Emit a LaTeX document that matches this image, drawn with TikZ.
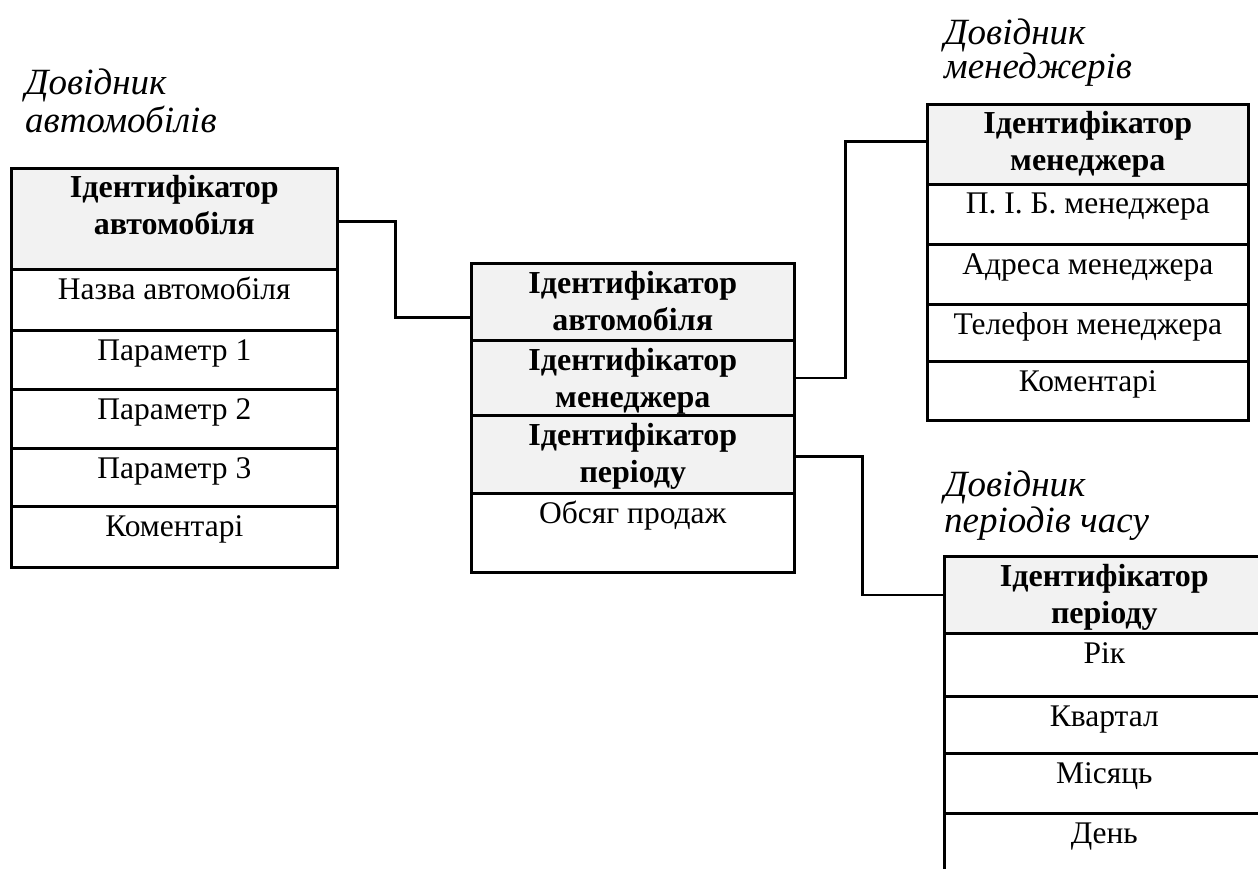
\documentclass[tikz,border=0pt]{standalone}
\usepackage{fontspec}
\setmainfont{Liberation Serif}
\definecolor{keyfill}{HTML}{F2F2F2}
\newcommand\twoline[2]{\vtop{\baselineskip=37pt\halign{\hfil##\hfil\cr#1\cr#2\cr}}}
\tikzset{
  cellbox/.style={draw=black, line width=2.6pt, fill=white, anchor=north west, inner sep=0pt},
  keybox/.style={cellbox, fill=keyfill},
  celltext/.style={anchor=base, inner sep=0pt, font=\fontsize{31.5}{36}\selectfont},
  keytext/.style={celltext, font=\fontsize{32}{37}\selectfont\bfseries},
  titletext/.style={anchor=base west, inner sep=0pt, align=left, font=\fontsize{37}{37}\selectfont\itshape},
  link/.style={draw=black, line width=2.6pt}
}
% one table cell: name, left x, top y, width, height, kind (key/cell), text
\newcommand\cell[7]{%
  \node[#6box, minimum width=#4pt, minimum height=#5pt] (#1) at (#2,#3) {};
  \node[#6text] (#1t) at ([yshift=-31pt]#1.north) {#7};
}
\begin{document}
\begin{tikzpicture}[x=1pt, y=-1pt]
\clip (0,0) rectangle (1258,869);
\fill[white] (0,0) rectangle (1258,869);

% cars
\node[titletext] (tcars) at (25,95) {Довідник};
\node[titletext] (tcars2) at (25,133) {автомобілів};
\cell{L0}{10}{167}{326}{101}{key}{\twoline{Ідентифікатор}{автомобіля}}
\cell{L1}{10}{268}{326}{61}{cell}{Назва автомобіля}
\cell{L2}{10}{329}{326}{59}{cell}{Параметр 1}
\cell{L3}{10}{388}{326}{59}{cell}{Параметр 2}
\cell{L4}{10}{447}{326}{58}{cell}{Параметр 3}
\cell{L5}{10}{505}{326}{61}{cell}{Коментарі}

% sales
\cell{M1}{470}{262}{323}{77}{key}{\twoline{Ідентифікатор}{автомобіля}}
\cell{M2}{470}{339}{323}{75}{key}{\twoline{Ідентифікатор}{менеджера}}
\cell{M3}{470}{414}{323}{78}{key}{\twoline{Ідентифікатор}{періоду}}
\cell{M4}{470}{492}{323}{79}{cell}{Обсяг продаж}

% managers
\node[titletext] (tman) at (944,45) {Довідник};
\node[titletext] (tman2) at (944,79) {менеджерів};
\cell{G0}{926}{103}{321}{80}{key}{\twoline{Ідентифікатор}{менеджера}}
\cell{G1}{926}{183}{321}{60}{cell}{П. І. Б. менеджера}
\cell{G2}{926}{243}{321}{60}{cell}{Адреса менеджера}
\cell{G3}{926}{303}{321}{57}{cell}{Телефон менеджера}
\cell{G4}{926}{360}{321}{59}{cell}{Коментарі}

% periods
\node[titletext] (tper) at (944,496) {Довідник};
\node[titletext] (tper2) at (944,532) {періодів часу};
\cell{P0}{943}{555}{320}{77}{key}{\twoline{Ідентифікатор}{періоду}}
\cell{P1}{943}{632}{320}{63}{cell}{Рік}
\cell{P2}{943}{695}{320}{57}{cell}{Квартал}
\cell{P3}{943}{752}{320}{60}{cell}{Місяць}
\cell{P4}{943}{812}{320}{62}{cell}{День}

% links
\draw[link] ([yshift=-2.5pt]L0.east) -- ++(57,0) |- ([yshift=-15.5pt]M1.west);
\draw[link] (M2.east) -- ++(50,0) |- ([yshift=3pt]G0.west);
\draw[link] ([yshift=-2pt]M3.east) -- ++(67,0) |- (P0.west);
\end{tikzpicture}
\end{document}
